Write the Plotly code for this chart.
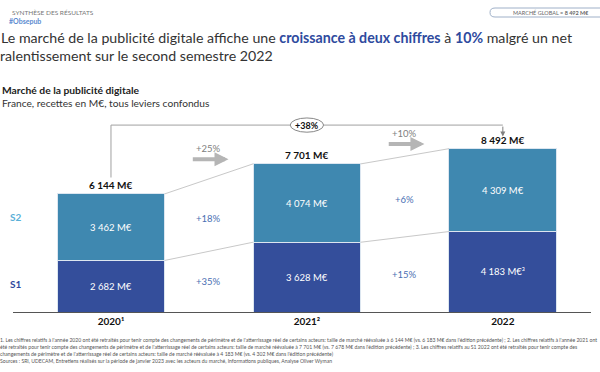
import plotly.graph_objects as go

years = ["2020¹", "2021²", "2022"]
s1_values = [2682, 3628, 4183]
s2_values = [3462, 4074, 4309]
totals = [6144, 7701, 8492]
s1_suffix = ["", "", "³"]
s1_growth = ["+35%", "+15%"]
s2_growth = ["+18%", "+6%"]
total_growth = ["+25%", "+10%"]
overall_growth = "+38%"
market_total = 8492


def fmt(v):
    return f"{v:,}".replace(",", " ") + " M€"

FONT = "Lato"
C_S1 = "#344e9b"
C_S2 = "#3f88b0"
C_GROW = "#4a6fb3"
C_DARK = "#333333"
C_BLUE = "#2e4a9e"

# layout geometry (pixels)
L, R, T, B = 13, 9, 112, 60
W = 600 - L - R
H = 372 - T - B

def px(x):
    return (x - L) / W

def py(y):
    return (372 - B - y) / H

fig = go.Figure()
fig.add_trace(go.Bar(
    x=years, y=s1_values, name="S1", width=0.55,
    marker=dict(color=C_S1, line=dict(color="#dce6f0", width=1)),
    text=[fmt(v) + s for v, s in zip(s1_values, s1_suffix)],
    textposition="inside", insidetextanchor="middle",
    textfont=dict(color="white", size=9.5, family=FONT),
    hoverinfo="skip"))
fig.add_trace(go.Bar(
    x=years, y=s2_values, name="S2", width=0.55,
    marker=dict(color=C_S2, line=dict(color="#dce6f0", width=1)),
    text=[fmt(v) for v in s2_values],
    textposition="inside", insidetextanchor="middle",
    textfont=dict(color="white", size=9.5, family=FONT),
    hoverinfo="skip"))

ann = []
shapes = []
hw = 0.275
tops = [a + b for a, b in zip(s1_values, s2_values)]

# totals above bars
for i, t in enumerate(totals):
    ann.append(dict(x=i, y=tops[i], xref="x", yref="y", text="<b>" + fmt(t) + "</b>",
                    showarrow=False, yanchor="bottom", yshift=1,
                    font=dict(size=10, color="#111111", family=FONT)))

# connectors and growth labels
for i in range(len(years) - 1):
    shapes.append(dict(type="line", xref="x", yref="y", x0=i + hw, y0=tops[i],
                       x1=i + 1 - hw, y1=tops[i + 1], line=dict(color="#c8c8c8", width=1)))
    shapes.append(dict(type="line", xref="x", yref="y", x0=i + hw, y0=s1_values[i],
                       x1=i + 1 - hw, y1=s1_values[i + 1], line=dict(color="#c8c8c8", width=1)))
    ym2 = (s1_values[i] + s2_values[i] / 2 + s1_values[i + 1] + s2_values[i + 1] / 2) / 2
    ym1 = (s1_values[i] / 2 + s1_values[i + 1] / 2) / 2
    ann.append(dict(x=i + 0.5, y=ym2, xref="x", yref="y", text=s2_growth[i], showarrow=False,
                    yshift=-3, font=dict(size=9.5, color=C_GROW, family=FONT)))
    ann.append(dict(x=i + 0.5, y=ym1, xref="x", yref="y", text=s1_growth[i], showarrow=False,
                    font=dict(size=9.5, color=C_GROW, family=FONT)))
    ya = tops[i + 1] + 240
    ann.append(dict(x=i + 0.6, y=ya, ax=i + 0.41, ay=ya, xref="x", yref="y",
                    axref="x", ayref="y", text="", showarrow=True, arrowhead=2,
                    arrowsize=0.7, arrowwidth=4, arrowcolor="#b5b5b5"))
    ann.append(dict(x=i + 0.5, y=ya, xref="x", yref="y", text=total_growth[i], showarrow=False,
                    yanchor="bottom", yshift=3, font=dict(size=9.5, color="#808080", family=FONT)))

# overall bracket
yb = 9720
shapes.append(dict(type="line", xref="x", yref="y", x0=0, y0=tops[0] + 850, x1=0, y1=yb,
                   line=dict(color="#a0a0a0", width=1)))
shapes.append(dict(type="line", xref="x", yref="y", x0=0, y0=yb, x1=2, y1=yb,
                   line=dict(color="#a0a0a0", width=1)))
ann.append(dict(x=2, y=tops[2] + 640, ax=2, ay=yb, xref="x", yref="y", axref="x", ayref="y",
                text="", showarrow=True, arrowhead=2, arrowsize=1, arrowwidth=1, arrowcolor="#808080"))
shapes.append(dict(type="circle", xref="x", yref="y", x0=1 - 0.085, x1=1 + 0.085,
                   y0=yb - 370, y1=yb + 370, fillcolor="white", line=dict(color="#888888", width=1)))
ann.append(dict(x=1, y=yb, xref="x", yref="y", text="<b>" + overall_growth + "</b>", showarrow=False,
                font=dict(size=9, color="#111111", family=FONT)))


def note(xp, yp, text, size, color, anchor="left"):
    ann.append(dict(x=px(xp), y=py(yp), xref="paper", yref="paper", text=text, showarrow=False,
                    xanchor=anchor, yanchor="middle", font=dict(size=size, color=color, family=FONT)))

# S1 / S2 side labels
note(8, 217, "<b>S2</b>", 10, "#5ab0d8")
note(8, 284, "<b>S1</b>", 10, C_BLUE)

# header
note(10, 12, "SYNTHÈSE DES RÉSULTATS", 6.5, "#777777")
note(7, 21, "<b>#Obsepub</b>", 7, "#5b8bd0")
x0p, x1p, y0p, y1p = px(490), px(606), py(17), py(8)
rx = 5 / W
shapes.append(dict(type="path", xref="paper", yref="paper",
                   path=(f"M {x0p+rx},{y1p} L {x1p},{y1p} L {x1p},{y0p} L {x0p+rx},{y0p} "
                         f"Q {x0p},{y0p} {x0p},{(y0p+y1p)/2} Q {x0p},{y1p} {x0p+rx},{y1p} Z"),
                   line=dict(color="#9fb0c8", width=1), fillcolor="white"))
note(551, 12.5, "MARCHÉ GLOBAL = <b>" + fmt(market_total) + "</b>", 5.5, "#666666", anchor="center")

title1 = ("Le marché de la publicité digitale affiche une "
          f"<b><span style='color:{C_BLUE}'>croissance à deux chiffres</span></b> à "
          f"<b><span style='color:{C_BLUE}'>10%</span></b> malgré un net")
title2 = "ralentissement sur le second semestre 2022"
note(-1, 37, title1, 14.2, C_DARK)
note(-2, 55, title2, 14.2, C_DARK)
note(0, 90, "<b>Marché de la publicité digitale</b>", 10.3, "#222222")
note(0, 103, "France, recettes en M€, tous leviers confondus", 10.2, "#333333")

foot = [
    "1. Les chiffres relatifs à l'année 2020 ont été retraités pour tenir compte des changements de périmètre et de l'atterrissage réel de certains acteurs: taille de marché réévaluée à 6 144 M€ (vs. 6 183 M€ dans l'édition précédente) ; 2. Les chiffres relatifs à l'année 2021 ont",
    "été retraités pour tenir compte des changements de périmètre et de l'atterrissage réel de certains acteurs: taille de marché réévaluée à 7 701 M€ (vs. 7 678 M€ dans l'édition précédente) ; 3. Les chiffres relatifs au S1 2022 ont été retraités pour tenir compte des",
    "changements de périmètre et de l'atterrissage réel de certains acteurs: taille de marché réévaluée à 4 183 M€ (vs. 4 302 M€ dans l'édition précédente)",
    "Sources : SRI, UDECAM, Entretiens réalisés sur la période de janvier 2023 avec les acteurs du marché, Informations publiques, Analyse Oliver Wyman",
]
for k, line in enumerate(foot):
    note(-2, 340 + 7 * k, line, 5.1, "#555555")

fig.update_layout(
    barmode="stack", width=600, height=372, showlegend=False,
    margin=dict(l=L, r=R, t=T, b=B, autoexpand=False),
    paper_bgcolor="white", plot_bgcolor="white",
    font=dict(family=FONT),
    annotations=ann, shapes=shapes,
    xaxis=dict(range=[-0.5, 2.45], showgrid=False, zeroline=False, showline=True,
               linecolor="#555555", linewidth=1, ticks="", automargin=False,
               tickvals=years, ticktext=["<b>" + y + "</b>" for y in years],
               tickfont=dict(size=10, color="#111111", family=FONT)),
    yaxis=dict(range=[0, 10400], visible=False, fixedrange=True, automargin=False),
)

fig.write_html("out.html", config={"displayModeBar": False},
               post_script="document.body.style.margin='0';")
